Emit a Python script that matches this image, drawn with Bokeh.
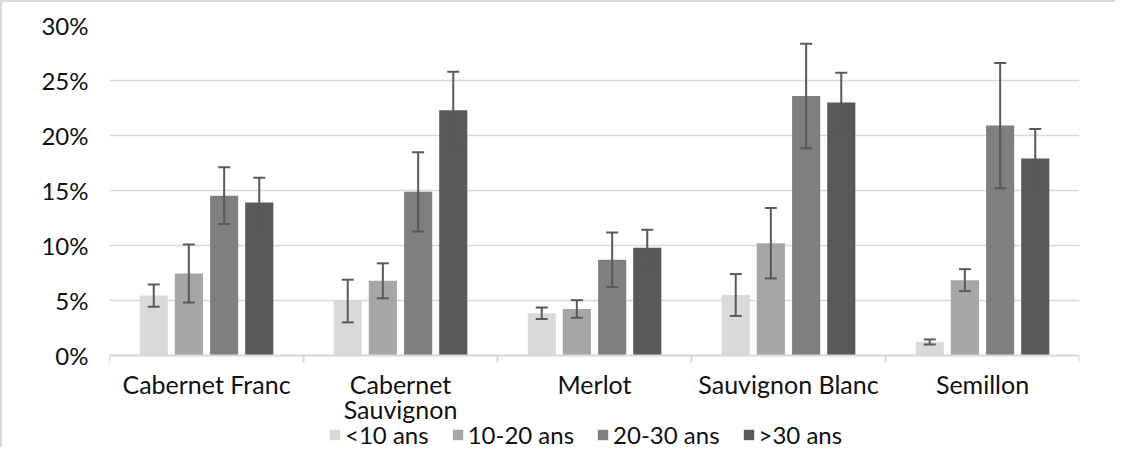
from bokeh.plotting import figure
from bokeh.models import (ColumnDataSource, Range1d, FixedTicker, PrintfTickFormatter,
                          Whisker, TeeHead, Legend, LegendItem, Span)
from bokeh.core.properties import value
from bokeh.embed import file_html
from bokeh.resources import INLINE

categories = ["Cabernet Franc", "Cabernet\nSauvignon", "Merlot", "Sauvignon Blanc", "Semillon"]
series = ["<10 ans", "10-20 ans", "20-30 ans", ">30 ans"]

lt10 = [5.45, 4.95, 3.84, 5.5, 1.23]
lt10_err = [1.01, 1.94, 0.52, 1.9, 0.23]
a10_20 = [7.45, 6.79, 4.23, 10.21, 6.85]
a10_20_err = [2.63, 1.59, 0.8, 3.2, 1.0]
a20_30 = [14.53, 14.88, 8.71, 23.6, 20.9]
a20_30_err = [2.58, 3.6, 2.48, 4.75, 5.7]
gt30 = [13.9, 22.3, 9.79, 23.0, 17.9]
gt30_err = [2.25, 3.5, 1.65, 2.7, 2.7]

y_ticks = [0, 5, 10, 15, 20, 25, 30]

values = [lt10, a10_20, a20_30, gt30]
errors = [lt10_err, a10_20_err, a20_30_err, gt30_err]
colors = ["#d9d9d9", "#a6a6a6", "#7f7f7f", "#595959"]
offsets = [-0.272, -0.091, 0.091, 0.272]
bar_width = 0.145
FONT = "Lato"
TXT = "#111111"

# layout: frame spans the whole lower area so the legend and category labels fit inside it
W, H = 1115, 447
TOP, LEFT, RIGHT = 23, 107, 38
PX_PER_PCT = 11.0
y_bottom = 30 - (H - TOP) / PX_PER_PCT

p = figure(width=W, height=H, x_range=Range1d(0, len(categories)), y_range=Range1d(y_bottom, 30),
           output_backend="svg", toolbar_location=None, x_axis_location=None,
           min_border_left=LEFT, min_border_right=RIGHT, min_border_top=TOP, min_border_bottom=0)
p.outline_line_color = None
p.background_fill_color = "white"
p.border_fill_color = "white"
p.styles = {"border-left": "2px solid #d9d9d9", "border-top": "2px solid #d9d9d9"}

# grid
p.xgrid.grid_line_color = None
p.ygrid.grid_line_color = "#d9d9d9"
p.ygrid.grid_line_width = 1.5
p.ygrid.ticker = FixedTicker(ticks=y_ticks)

items = []
for vals, errs, col, off, name in zip(values, errors, colors, offsets, series):
    xs = [i + 0.5 + off for i in range(len(categories))]
    src = ColumnDataSource(dict(x=xs, top=vals,
                                upper=[v + e for v, e in zip(vals, errs)],
                                lower=[v - e for v, e in zip(vals, errs)]))
    r = p.vbar(x="x", top="top", bottom=0, width=bar_width, source=src, fill_color=col, line_color=None)
    items.append(LegendItem(label=name, renderers=[r]))
    w = Whisker(base="x", upper="upper", lower="lower", source=src, level="overlay",
                line_color="#595959", line_width=2,
                upper_head=TeeHead(size=12, line_color="#595959", line_width=2),
                lower_head=TeeHead(size=12, line_color="#595959", line_width=2))
    p.add_layout(w)

# category axis (drawn inside the frame)
p.add_layout(Span(location=0, dimension="width", line_color="#d9d9d9", line_width=2))
bounds = list(range(len(categories) + 1))
p.segment(x0=bounds, x1=bounds, y0=[0] * len(bounds), y1=[-7 / PX_PER_PCT] * len(bounds),
          line_color="#d9d9d9", line_width=2)
centers = [i + 0.5 for i in range(len(categories))]
p.text(x=centers, y=[0] * len(centers), text=categories, text_align="center", text_baseline="top",
       y_offset=13, text_font=value(FONT), text_font_size="25px", text_line_height=0.85,
       text_color=TXT)

# y axis
p.yaxis.ticker = FixedTicker(ticks=y_ticks)
p.yaxis.formatter = PrintfTickFormatter(format="%d%%")
p.yaxis.axis_line_color = None
p.yaxis.major_tick_line_color = None
p.yaxis.minor_tick_line_color = None
p.yaxis.major_tick_out = 0
p.yaxis.major_label_standoff = 21
p.yaxis.major_label_text_font = FONT
p.yaxis.major_label_text_font_size = "24px"
p.yaxis.major_label_text_color = TXT

legend = Legend(items=items, orientation="horizontal", location=(219, 0))
legend.label_text_font = FONT
legend.label_text_font_size = "24px"
legend.label_text_color = TXT
legend.label_height = 20
legend.glyph_width = 13
legend.glyph_height = 13
legend.label_standoff = 4
legend.spacing = 22
legend.padding = 0
legend.margin = 0
legend.border_line_color = None
legend.background_fill_alpha = 0
p.add_layout(legend, "center")

open("out.html", "w").write(file_html(p, INLINE))
